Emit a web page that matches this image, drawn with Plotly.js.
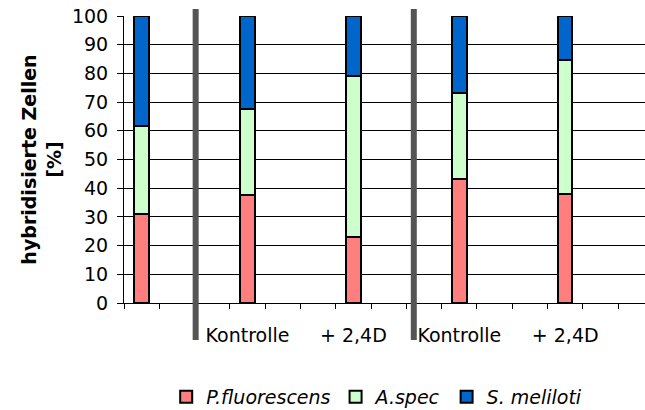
<!DOCTYPE html>
<html>
<head>
<meta charset="utf-8">
<script src="https://cdn.plot.ly/plotly-3.0.1.min.js"></script>
<style>html,body{margin:0;padding:0;background:#fff;}#chart{width:645px;height:410px;}</style>
</head>
<body>
<div id="chart"></div>
<script>
// Data
const barPositions = [0, 3, 6, 9, 12];
const categoryLabels = ["", "Kontrolle", "+ 2,4D", "Kontrolle", "+ 2,4D"];
const seriesNames = ["P.fluorescens", "A.spec", "S. meliloti"];
const pFluorescens = [31.1, 37.7, 23.0, 43.3, 38.1];
const aSpec = [30.6, 29.9, 56.0, 29.8, 46.6];
const sMeliloti = [38.3, 32.4, 21.0, 26.9, 15.3];
const separatorPositions = [1.53, 7.71];
const yTicks = [0, 10, 20, 30, 40, 50, 60, 70, 80, 90, 100];

const colors = ["#FF7F7F", "#CCFFCC", "#0066CC"];
const seriesValues = [pFluorescens, aSpec, sMeliloti];

const font = "'DejaVu Sans', Arial, sans-serif";

const traces = seriesValues.map((vals, i) => ({
  type: "bar",
  x: barPositions,
  y: vals,
  name: seriesNames[i],
  width: 0.41,
  marker: {color: colors[i], line: {color: "#000", width: 2}},
  hoverinfo: "skip"
}));

const shapes = separatorPositions.map(xp => ({
  type: "line", xref: "x", yref: "paper",
  x0: xp, x1: xp, y0: -0.129, y1: 1.024,
  line: {color: "#555555", width: 6},
  layer: "above"
}));

const layout = {
  width: 645, height: 410,
  margin: {l: 124, r: 0, t: 16, b: 107, pad: 0, autoexpand: false},
  paper_bgcolor: "#fff", plot_bgcolor: "#fff",
  barmode: "stack",
  showlegend: true,
  font: {family: font, color: "#000", size: 19},
  xaxis: {
    range: [-0.5, 14.26],
    tickmode: "array",
    tickvals: barPositions,
    ticktext: categoryLabels,
    ticks: "",
    ticklabelstandoff: 15,
    tickfont: {family: font, size: 19, color: "#000"},
    showgrid: false, zeroline: false,
    showline: true, linecolor: "#000", linewidth: 1,
    minor: {tickmode: "linear", tick0: -0.5, dtick: 1, ticks: "outside", ticklen: 5, tickcolor: "#000", tickwidth: 1, showgrid: false},
    automargin: false,
    fixedrange: true
  },
  yaxis: {
    range: [0, 100],
    tickmode: "array",
    tickvals: yTicks,
    ticks: "outside", ticklen: 6, tickcolor: "#000", tickwidth: 1,
    ticklabelstandoff: 5,
    tickfont: {family: font, size: 19, color: "#000"},
    showgrid: true, gridcolor: "#000", gridwidth: 1,
    zeroline: false,
    showline: true, linecolor: "#000", linewidth: 1,
    title: {text: "<b>hybridisierte Zellen<br>[%]</b>", font: {family: font, size: 19, color: "#000"}, standoff: 5},
    automargin: false,
    fixedrange: true
  },
  legend: {
    orientation: "h",
    xref: "container", yref: "container",
    x: 0.584, xanchor: "center",
    y: 0.032, yanchor: "middle",
    font: {family: font, size: 19, color: "#000", style: "italic"},
    traceorder: "normal",
    itemwidth: 30
  },
  shapes: shapes
};

Plotly.newPlot("chart", traces, layout, {displayModeBar: false, staticPlot: true});
</script>
</body>
</html>
